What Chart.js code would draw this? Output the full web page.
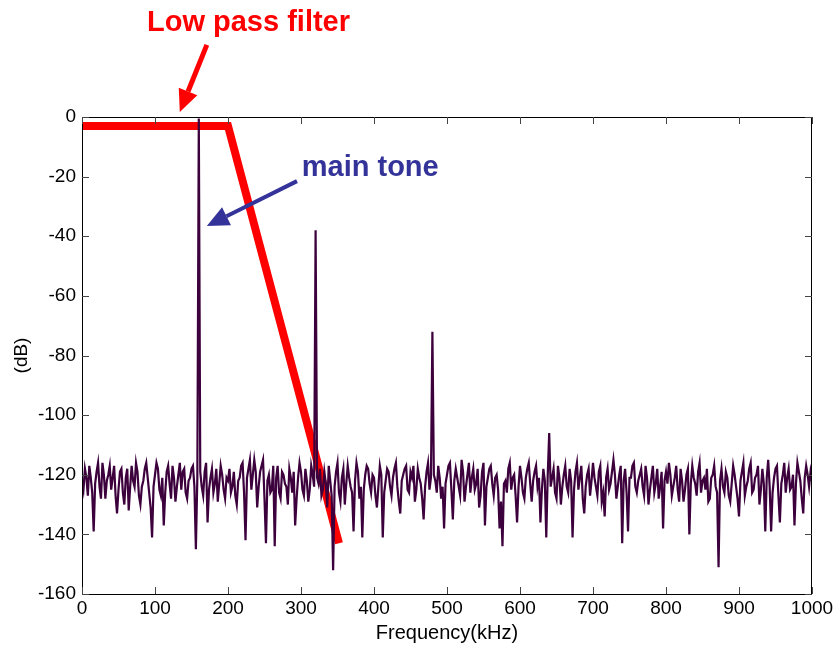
<!DOCTYPE html>
<html>
<head>
<meta charset="utf-8">
<script src="https://cdn.jsdelivr.net/npm/chart.js@4.4.1/dist/chart.umd.min.js"></script>
<style>
  html, body { margin: 0; padding: 0; background: #fff; }
  #wrap { width: 838px; height: 645px; }
</style>
</head>
<body>
<div id="wrap"><canvas id="spectrum"></canvas></div>
<script>
// spectrum samples, one every 2 kHz from 0 to 1000 kHz (dB), 20 kHz per row
const freqStep = 2;
const levels = [
  -122, -125, -118, -121, -127, -117, -121, -126, -139, -123,
  -119, -116, -124, -128, -116, -120, -128, -122, -120, -117,
  -125, -121, -117, -127, -133, -125, -119, -118, -126, -130,
  -121, -118, -132, -124, -117, -122, -124, -116, -119, -127,
  -130, -124, -122, -118, -116, -121, -126, -131, -141, -124,
  -120, -116, -118, -125, -127, -121, -137, -126, -119, -117,
  -123, -128, -117, -121, -129, -124, -120, -116, -125, -119,
  -118, -126, -128, -122, -121, -118, -117, -124, -145, -121,
  -0.5, -119, -124, -127, -119, -116, -136, -125, -121, -118,
  -126, -123, -118, -129, -123, -117, -120, -125, -128, -121,
  -122, -118, -126, -124, -119, -127, -130, -122, -121, -117,
  -116, -126, -142, -121, -118, -115, -125, -120, -115, -119,
  -131, -124, -119, -117, -115, -128, -143, -122, -120, -126,
  -125, -117, -144, -121, -117, -126, -128, -119, -120, -123,
  -124, -130, -118, -121, -126, -119, -137, -128, -121, -116,
  -119, -125, -127, -118, -122, -129, -125, -117, -120, -124,
  -38, -121, -123, -118, -127, -125, -119, -123, -131, -117,
  -122, -127, -152, -124, -119, -116, -126, -129, -121, -118,
  -130, -123, -117, -121, -124, -126, -139, -122, -116, -119,
  -128, -124, -141, -125, -120, -117, -118, -123, -126, -120,
  -121, -127, -131, -124, -117, -120, -141, -126, -122, -118,
  -119, -124, -127, -121, -118, -116, -124, -129, -133, -122,
  -120, -118, -117, -125, -126, -119, -121, -117, -129, -125,
  -118, -121, -123, -128, -135, -124, -119, -116, -125, -121,
  -72, -120, -122, -126, -117, -121, -128, -124, -138, -123,
  -120, -117, -116, -125, -135, -122, -118, -121, -124, -127,
  -115, -119, -129, -124, -120, -116, -126, -121, -118, -125,
  -123, -118, -131, -127, -119, -116, -137, -124, -121, -118,
  -117, -123, -127, -121, -120, -125, -138, -129, -144, -123,
  -122, -126, -118, -116, -125, -121, -120, -127, -136, -124,
  -117, -121, -126, -128, -121, -118, -116, -123, -129, -122,
  -119, -117, -124, -121, -136, -125, -118, -122, -141, -120,
  -106, -124, -121, -118, -126, -128, -117, -121, -130, -124,
  -120, -117, -124, -126, -118, -122, -141, -125, -119, -116,
  -125, -121, -117, -128, -133, -124, -120, -118, -127, -122,
  -116, -121, -124, -127, -119, -117, -129, -126, -134, -121,
  -118, -125, -123, -119, -115, -120, -128, -124, -120, -117,
  -143, -122, -118, -126, -139, -121, -121, -117, -116, -124,
  -126, -122, -120, -118, -124, -127, -117, -121, -130, -125,
  -121, -117, -126, -123, -118, -128, -124, -119, -138, -122,
  -119, -123, -116, -120, -127, -124, -121, -117, -125, -129,
  -118, -122, -129, -125, -120, -118, -140, -123, -117, -121,
  -123, -127, -119, -116, -126, -122, -121, -125, -118, -129,
  -128, -121, -120, -117, -124, -126, -151, -122, -118, -124,
  -126, -119, -121, -127, -129, -123, -117, -120, -124, -128,
  -134, -122, -119, -116, -127, -124, -122, -118, -116, -126,
  -125, -121, -120, -117, -130, -125, -118, -123, -139, -121,
  -115, -124, -139, -126, -121, -118, -117, -127, -136, -123,
  -120, -116, -126, -121, -118, -125, -124, -120, -137, -123,
  -116, -119, -122, -128, -133, -121, -117, -120, -124, -119,
  -122
];

// low pass filter mask corners
const filterFreq = [0, 200, 352];
const filterGain = [-3, -3, -143];

const xTicks = [0, 100, 200, 300, 400, 500, 600, 700, 800, 900, 1000];
const yTicks = [0, -20, -40, -60, -80, -100, -120, -140, -160];

const spectrumPts = levels.map((v, i) => ({x: i * freqStep, y: v}));
const filterPts = filterFreq.map((f, i) => ({x: f, y: filterGain[i]}));

const font = '"Liberation Sans", Arial, sans-serif';

function arrow(ctx, x1, y1, x2, y2, color, w, head, half) {
  const ang = Math.atan2(y2 - y1, x2 - x1);
  const bx = x2 - Math.cos(ang) * head;
  const by = y2 - Math.sin(ang) * head;
  ctx.strokeStyle = color;
  ctx.fillStyle = color;
  ctx.lineWidth = w;
  ctx.beginPath();
  ctx.moveTo(x1, y1);
  ctx.lineTo(bx, by);
  ctx.stroke();
  ctx.beginPath();
  ctx.moveTo(x2, y2);
  ctx.lineTo(bx + Math.sin(ang) * half, by - Math.cos(ang) * half);
  ctx.lineTo(bx - Math.sin(ang) * half, by + Math.cos(ang) * half);
  ctx.closePath();
  ctx.fill();
}

// box round the plot with inward ticks, like the original figure
const frame = {
  id: 'frame',
  afterDatasetsDraw(chart) {
    const {ctx, chartArea: a, scales} = chart;
    ctx.save();
    ctx.strokeStyle = '#000';
    ctx.lineWidth = 1;
    ctx.strokeRect(a.left + 0.5, a.top + 0.5, a.right - a.left - 1, a.bottom - a.top);
    ctx.strokeStyle = '#444';
    ctx.beginPath();
    xTicks.forEach(t => {
      const px = Math.round(scales.x.getPixelForValue(t)) + 0.5;
      ctx.moveTo(px, a.bottom); ctx.lineTo(px, a.bottom - 7);
      ctx.moveTo(px, a.top); ctx.lineTo(px, a.top + 7);
    });
    yTicks.forEach(t => {
      const py = Math.round(scales.y.getPixelForValue(t)) + 0.5;
      ctx.moveTo(a.left, py); ctx.lineTo(a.left + 7, py);
      ctx.moveTo(a.right, py); ctx.lineTo(a.right - 7, py);
    });
    ctx.stroke();
    ctx.restore();
  },
  afterDraw(chart) {
    const {ctx, scales} = chart;
    const X = v => scales.x.getPixelForValue(v);
    const Y = v => scales.y.getPixelForValue(v);
    ctx.save();
    ctx.textBaseline = 'alphabetic';
    ctx.textAlign = 'left';
    ctx.font = 'bold 29px ' + font;
    ctx.fillStyle = '#ff0000';
    ctx.fillText('Low pass filter', X(89), Y(28.9));
    arrow(ctx, X(171), Y(24.2), X(134), Y(1.7), '#ff0000', 5, 22, 10);
    ctx.fillStyle = '#333399';
    ctx.fillText('main tone', X(301), Y(-19.8));
    arrow(ctx, X(294.5), Y(-21.5), X(171), Y(-36.6), '#333399', 4, 22, 10);
    ctx.restore();
  }
};

const ctx = document.getElementById('spectrum').getContext('2d');
new Chart(ctx, {
  type: 'line',
  data: {
    datasets: [
      {
        label: 'spectrum',
        data: spectrumPts,
        borderColor: '#3c003c',
        borderWidth: 2.2,
        pointRadius: 0,
        tension: 0,
        order: 0
      },
      {
        label: 'low pass filter',
        data: filterPts,
        borderColor: '#ff0000',
        borderWidth: 8,
        pointRadius: 0,
        tension: 0,
        borderJoinStyle: 'miter',
        order: 1
      }
    ]
  },
  options: {
    responsive: true,
    maintainAspectRatio: false,
    animation: false,
    layout: { padding: { top: 117, right: 26, left: 0, bottom: 0 } },
    plugins: { legend: { display: false }, tooltip: { enabled: false } },
    scales: {
      x: {
        type: 'linear',
        min: 0,
        max: 1000,
        afterFit(s) { s.height = 51; },
        afterBuildTicks(s) { s.ticks = xTicks.map(v => ({value: v})); },
        grid: { display: false, drawTicks: false },
        border: { display: false },
        ticks: {
          padding: 3,
          color: '#000',
          font: { family: font, size: 19 },
          maxRotation: 0,
          callback: v => String(v)
        },
        title: {
          display: true,
          text: 'Frequency(kHz)',
          color: '#000',
          font: { family: font, size: 20 },
          padding: { top: 0, bottom: 0 }
        }
      },
      y: {
        type: 'linear',
        min: -160,
        max: 0,
        afterFit(s) { s.width = 82; },
        afterBuildTicks(s) { s.ticks = yTicks.map(v => ({value: v})); },
        grid: { display: false, drawTicks: false },
        border: { display: false },
        ticks: {
          padding: 6,
          color: '#000',
          font: { family: font, size: 19 },
          callback: v => String(v)
        },
        title: {
          display: true,
          text: '(dB)',
          color: '#000',
          font: { family: font, size: 19 },
          padding: { top: 10, bottom: 0 }
        }
      }
    }
  },
  plugins: [frame]
});
</script>
</body>
</html>
